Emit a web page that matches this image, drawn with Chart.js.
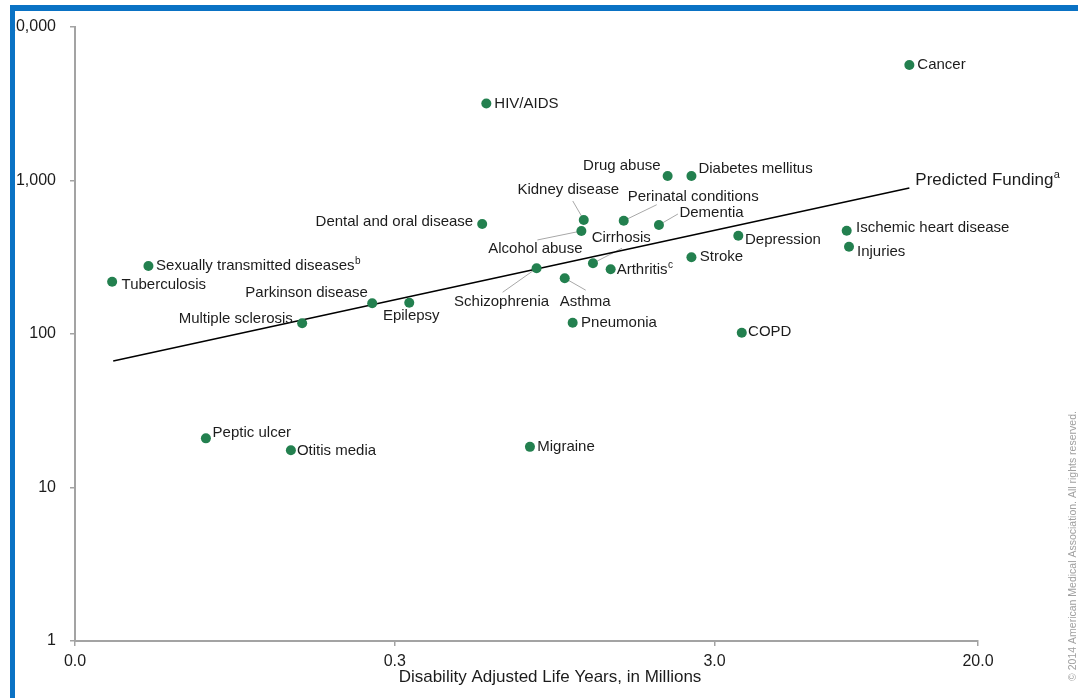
<!DOCTYPE html>
<html>
<head>
<meta charset="utf-8">
<title>Research Funding vs. Disease Burden</title>
<script src="https://cdn.jsdelivr.net/npm/chart.js@4.4.1/dist/chart.umd.min.js"></script>
<style>
  html, body { margin: 0; padding: 0; background: #ffffff; }
  #wrap { position: relative; width: 1078px; height: 698px; overflow: hidden; }
  canvas { display: block; }
</style>
</head>
<body>
<div id="wrap"><canvas id="chart" width="1078" height="698"></canvas></div>
<script>
// Conditions plotted: disease burden (DALYs, millions) against research funding ($ millions)
const diseases = [
  'Cancer', 'HIV/AIDS', 'Drug abuse', 'Diabetes mellitus', 'Kidney disease',
  'Perinatal conditions', 'Dementia', 'Dental and oral disease', 'Alcohol abuse', 'Cirrhosis',
  'Arthritis', 'Schizophrenia', 'Asthma', 'Stroke', 'Depression',
  'Ischemic heart disease', 'Injuries', 'COPD', 'Pneumonia', 'Epilepsy',
  'Parkinson disease', 'Multiple sclerosis', 'Sexually transmitted diseases', 'Tuberculosis', 'Peptic ulcer',
  'Otitis media', 'Migraine'
];
const dalys = [
  12.2, 0.58, 2.14, 2.54, 1.17,
  1.56, 2.01, 0.563, 1.15, 1.25,
  1.42, 0.833, 1.02, 2.54, 3.56,
  7.77, 7.90, 3.65, 1.08, 0.333,
  0.255, 0.154, 0.0509, 0.0392, 0.077,
  0.142, 0.794
];
const funding = [
  5650, 3170, 1070, 1070, 553,
  547, 513, 521, 469, 289,
  264, 268, 231, 316, 437,
  471, 370, 102, 118.5, 160,
  158.5, 117.4, 277, 219, 20.9,
  17.5, 18.4
];
// Superscript footnote markers attached to some labels
const footnotes = { 'Arthritis': 'c', 'Sexually transmitted diseases': 'b' };

// Fitted funding line (end points)
const trendDalys = [0.0395, 12.2];
const trendFunding = [66.7, 894];
const trendLabel = 'Predicted Funding';
const trendFootnote = 'a';

// Axis ticks
const xTicks = [0.03, 0.3, 3, 20];
const yTicks = [1, 10, 100, 1000, 10000];
const xTitle = 'Disability Adjusted Life Years, in Millions';
const credit = '\u00A9 2014 American Medical Association. All rights reserved.';

// Label placement relative to each point: [dx, dy, align], optional leader end [lx, ly]
const placement = {
  'Cancer': [8, 0, 'left'],
  'HIV/AIDS': [8, 0, 'left'],
  'Drug abuse': [-7, -10, 'right'],
  'Diabetes mellitus': [7, -7, 'left'],
  'Kidney disease': [-15.5, -30, 'center', -11, -19],
  'Perinatal conditions': [4, -23.5, 'left', 33, -16],
  'Dementia': [20.5, -12.3, 'left', 19, -11],
  'Dental and oral disease': [-9, -2, 'right'],
  'Alcohol abuse': [-46, 18.3, 'center', -44, 9],
  'Cirrhosis': [28.3, -25, 'center', 29, -15],
  'Arthritis': [6, 0.7, 'left'],
  'Schizophrenia': [-35, 33.4, 'center', -34, 24],
  'Asthma': [20.5, 23.4, 'center', 21, 12],
  'Stroke': [8.3, 0, 'left'],
  'Depression': [6.7, 4.3, 'left'],
  'Ischemic heart disease': [9.3, -2.7, 'left'],
  'Injuries': [8, 5, 'left'],
  'COPD': [6.3, -1, 'left'],
  'Pneumonia': [8.4, 0, 'left'],
  'Epilepsy': [2, 13.3, 'center'],
  'Parkinson disease': [-4.3, -10.6, 'right'],
  'Multiple sclerosis': [-9.3, -4, 'right'],
  'Sexually transmitted diseases': [7.7, 0, 'left'],
  'Tuberculosis': [9.4, 3.3, 'left'],
  'Peptic ulcer': [6.7, -5, 'left'],
  'Otitis media': [6, 0.7, 'left'],
  'Migraine': [7.3, 0, 'left']
};

const FONT = '"Liberation Sans", Arial, Helvetica, sans-serif';
const TEXT = '#1c1c1c';
const AXIS = '#a3a3a3';
const DOT = '#23804f';
const BLUE = '#0a72c4';

// Draws text plus an optional raised footnote letter
function drawText(ctx, text, sup, x, y, align, size) {
  ctx.font = size + 'px ' + FONT;
  const w = ctx.measureText(text).width;
  let supW = 0;
  if (sup) {
    ctx.font = Math.round(size * 0.65) + 'px ' + FONT;
    supW = ctx.measureText(sup).width;
  }
  const total = w + supW;
  let left = x;
  if (align === 'right') left = x - total;
  else if (align === 'center') left = x - total / 2;
  ctx.textAlign = 'left';
  ctx.textBaseline = 'middle';
  ctx.fillStyle = TEXT;
  ctx.font = size + 'px ' + FONT;
  ctx.fillText(text, left, y);
  if (sup) {
    ctx.font = Math.round(size * 0.65) + 'px ' + FONT;
    ctx.fillText(sup, left + w + 0.5, y - size * 0.3);
  }
}

const annotations = {
  id: 'annotations',
  beforeDatasetsDraw(chart) {
    const { ctx, scales: { x, y } } = chart;
    ctx.save();
    ctx.strokeStyle = '#a8a8a8';
    ctx.lineWidth = 1;
    diseases.forEach((name, i) => {
      const p = placement[name];
      if (!p || p.length < 5) return;
      const px = x.getPixelForValue(dalys[i]);
      const py = y.getPixelForValue(funding[i]);
      ctx.beginPath();
      ctx.moveTo(px, py);
      ctx.lineTo(px + p[3], py + p[4]);
      ctx.stroke();
    });
    ctx.restore();
  },
  afterDatasetsDraw(chart) {
    const { ctx, scales: { x, y } } = chart;
    ctx.save();
    diseases.forEach((name, i) => {
      const p = placement[name];
      const px = x.getPixelForValue(dalys[i]);
      const py = y.getPixelForValue(funding[i]);
      drawText(ctx, name, footnotes[name], px + p[0], py + p[1], p[2], 15);
    });
    // label at the end of the fitted line
    const ex = x.getPixelForValue(trendDalys[1]);
    const ey = y.getPixelForValue(trendFunding[1]);
    drawText(ctx, trendLabel, trendFootnote, ex + 6, ey - 8, 'left', 17);
    ctx.restore();
  },
  afterDraw(chart) {
    const { ctx, chartArea } = chart;
    ctx.save();
    // x-axis title
    drawText(ctx, xTitle, null, chartArea.left + 475, 677, 'left' === 'x' ? 'left' : 'center', 17);
    // vertical credit line on the right edge
    ctx.translate(1073, 546);
    ctx.rotate(-Math.PI / 2);
    ctx.font = '10.5px ' + FONT;
    ctx.fillStyle = '#a0a0a0';
    ctx.textAlign = 'center';
    ctx.textBaseline = 'middle';
    ctx.fillText(credit, 0, 0);
    ctx.setTransform(1, 0, 0, 1, 0, 0);
    // page frame: blue rules along the top and left edges
    ctx.fillStyle = '#ffffff';
    ctx.fillRect(0, 0, 10, chart.height);
    ctx.fillRect(0, 0, chart.width, 5);
    ctx.fillStyle = BLUE;
    ctx.fillRect(10, 5, 5, chart.height - 5);
    ctx.fillRect(10, 5, chart.width - 10, 6);
    ctx.restore();
  }
};

new Chart(document.getElementById('chart'), {
  type: 'scatter',
  data: {
    datasets: [
      {
        label: 'Conditions',
        data: diseases.map((n, i) => ({ x: dalys[i], y: funding[i] })),
        backgroundColor: DOT,
        borderWidth: 0,
        pointRadius: 5,
        pointHoverRadius: 5
      },
      {
        label: trendLabel,
        data: trendDalys.map((v, i) => ({ x: v, y: trendFunding[i] })),
        showLine: true,
        borderColor: '#000000',
        borderWidth: 1.6,
        pointRadius: 0,
        fill: false
      }
    ]
  },
  options: {
    responsive: false,
    animation: false,
    events: [],
    layout: { padding: { top: 27, right: 100, left: 0, bottom: 0 } },
    plugins: { legend: { display: false }, tooltip: { enabled: false } },
    scales: {
      x: {
        type: 'logarithmic',
        min: xTicks[0],
        max: xTicks[xTicks.length - 1],
        afterBuildTicks: s => { s.ticks = xTicks.map(v => ({ value: v })); },
        afterFit: s => { s.height = 57; },
        ticks: {
          callback: v => Number(v).toFixed(1),
          font: { family: FONT, size: 16 },
          color: TEXT,
          padding: 6,
          maxRotation: 0,
          autoSkip: false
        },
        grid: { drawOnChartArea: false, drawTicks: true, tickLength: 5, color: AXIS, lineWidth: 1.5 },
        border: { display: true, color: AXIS, width: 2 }
      },
      y: {
        type: 'logarithmic',
        min: yTicks[0],
        max: yTicks[yTicks.length - 1],
        afterBuildTicks: s => { s.ticks = yTicks.map(v => ({ value: v })); },
        afterFit: s => { s.width = 75; },
        ticks: {
          callback: v => Number(v).toLocaleString('en-US'),
          font: { family: FONT, size: 16 },
          color: TEXT,
          padding: 14,
          autoSkip: false
        },
        grid: { drawOnChartArea: false, drawTicks: true, tickLength: 5, color: AXIS, lineWidth: 1.5 },
        border: { display: true, color: AXIS, width: 2 }
      }
    }
  },
  plugins: [annotations]
});
</script>
</body>
</html>
